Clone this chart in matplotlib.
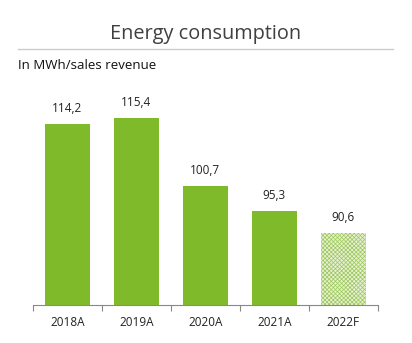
import matplotlib
matplotlib.use("Agg")
import matplotlib.pyplot as plt
from matplotlib.lines import Line2D

years = ["2018A", "2019A", "2020A", "2021A", "2022F"]
values = [114.2, 115.4, 100.7, 95.3, 90.6]
labels = ["114,2", "115,4", "100,7", "95,3", "90,6"]
forecast = [False, False, False, False, True]

plt.rcParams['font.family'] = ['Open Sans', 'DejaVu Sans']
plt.rcParams['hatch.linewidth'] = 0.5

fig = plt.figure(figsize=(4.12, 3.43), dpi=100)
ax = fig.add_axes([0.080, 0.111, 0.837, 0.740])

green = "#7fba2a"
for i, (v, f) in enumerate(zip(values, forecast)):
    if f:
        ax.bar(i, v, width=0.66, color="#e6f0d2", edgecolor="#9cc75a",
               hatch="xxxxxxxx", linewidth=0)
    else:
        ax.bar(i, v, width=0.66, color=green, linewidth=0)
    ax.text(i, v + 2.0, labels[i], ha="center", va="bottom", fontsize=8.5,
            color="#222222")

ax.set_ylim(75, 130)
ax.set_xlim(-0.5, len(years) - 0.5)
ax.set_yticks([])
for s in ["top", "right", "left"]:
    ax.spines[s].set_visible(False)
ax.spines["bottom"].set_color("#888888")
ax.spines["bottom"].set_linewidth(0.8)

ax.set_xticks(range(len(years)))
ax.set_xticklabels(years, fontsize=8.5, color="#222222")
ax.tick_params(axis="x", length=0, pad=8)
ax.set_xticks([i - 0.5 for i in range(len(years) + 1)], minor=True)
ax.tick_params(axis="x", which="minor", length=4, color="#888888", width=0.8)

fig.text(0.5, 0.902, "Energy consumption", ha="center", va="center",
         fontsize=14.3, color="#404040")
fig.add_artist(Line2D([0.044, 0.954], [0.857, 0.857],
                      color="#cccccc", linewidth=1, transform=fig.transFigure))
fig.text(0.044, 0.808, "In MWh/sales revenue", ha="left", va="center",
         fontsize=9.5, color="#111111")

fig.savefig("out.png", dpi=100)
